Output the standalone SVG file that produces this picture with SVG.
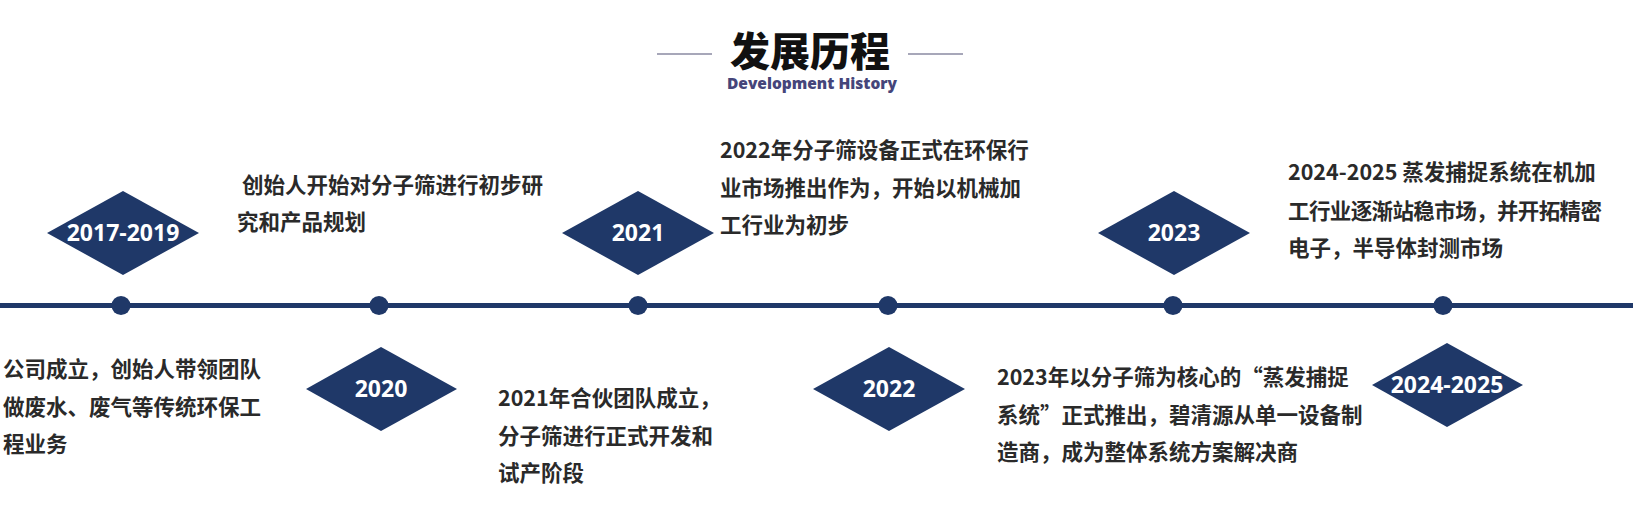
<svg xmlns="http://www.w3.org/2000/svg" width="1633" height="522" viewBox="0 0 1633 522">
<style>
.title{font-family:"Noto Sans CJK SC",sans-serif;font-weight:900;font-size:40px;fill:#111;text-anchor:middle}
.sub{font-family:"Open Sans","Liberation Sans",sans-serif;font-weight:800;font-size:15.5px;fill:#45457a;text-anchor:middle}
.dia{fill:#1f3868}
.yr{font-family:"Open Sans","Noto Sans CJK SC",sans-serif;font-weight:700;font-size:23px;fill:#fff;text-anchor:middle}
.body{font-family:"Noto Sans CJK SC",sans-serif;font-weight:700;font-size:21.5px;fill:#2a2a2a}
.dot{fill:#1f3868}
</style>
<rect width="1633" height="522" fill="#fff"/>
<g id="title">
<line x1="657" y1="54" x2="712" y2="54" stroke="#8a8aa2" stroke-width="1.5"/>
<line x1="908" y1="54" x2="963" y2="54" stroke="#8a8aa2" stroke-width="1.5"/>
<text class="title" x="810" y="66">发展历程</text>
<text class="sub" x="812" y="89">Development History</text>
</g>
<g id="connectors">
<rect x="0" y="303" width="1633" height="5" fill="#1f3868"/>
<circle class="dot" cx="121" cy="305.5" r="9.5"/>
<circle class="dot" cx="379" cy="305.5" r="9.5"/>
<circle class="dot" cx="638" cy="305.5" r="9.5"/>
<circle class="dot" cx="888" cy="305.5" r="9.5"/>
<circle class="dot" cx="1173" cy="305.5" r="9.5"/>
<circle class="dot" cx="1443" cy="305.5" r="9.5"/>
</g>
<g id="n2017">
<polygon class="dia" points="47,233 123,191 199,233 123,275"/>
<text class="yr" x="123" y="241">2017-2019</text>
<text class="body" x="242" y="193">创始人开始对分子筛进行初步研</text>
<text class="body" x="237" y="230">究和产品规划</text>
<text class="body" x="3" y="377">公司成立，创始人带领团队</text>
<text class="body" x="3" y="415">做废水、废气等传统环保工</text>
<text class="body" x="3" y="452">程业务</text>
</g>
<g id="n2020">
<polygon class="dia" points="306,389 381,347 457,389 381,431"/>
<text class="yr" x="381" y="397">2020</text>
<text class="body" x="498" y="406">2021年合伙团队成立，</text>
<text class="body" x="498" y="444">分子筛进行正式开发和</text>
<text class="body" x="498" y="481">试产阶段</text>
</g>
<g id="n2021">
<polygon class="dia" points="562,233 638,191 714,233 638,275"/>
<text class="yr" x="638" y="241">2021</text>
<text class="body" x="720" y="158">2022年分子筛设备正式在环保行</text>
<text class="body" x="720" y="196">业市场推出作为，开始以机械加</text>
<text class="body" x="720" y="233">工行业为初步</text>
</g>
<g id="n2022">
<polygon class="dia" points="813,389 889,347 965,389 889,431"/>
<text class="yr" x="889" y="397">2022</text>
<text class="body" x="997" y="385">2023年以分子筛为核心的“蒸发捕捉</text>
<text class="body" x="997" y="423">系统”正式推出，碧清源从单一设备制</text>
<text class="body" x="997" y="460">造商，成为整体系统方案解决商</text>
</g>
<g id="n2023">
<polygon class="dia" points="1098,233 1174,191 1250,233 1174,275"/>
<text class="yr" x="1174" y="241">2023</text>
<text class="body" x="1288" y="180">2024-2025 蒸发捕捉系统在机加</text>
<text class="body" x="1288" y="219" textLength="314">工行业逐渐站稳市场，并开拓精密</text>
<text class="body" x="1288" y="256">电子，半导体封测市场</text>
</g>
<g id="n2024">
<polygon class="dia" points="1372,385 1447,343 1523,385 1447,427"/>
<text class="yr" x="1447" y="393">2024-2025</text>
</g>
</svg>
